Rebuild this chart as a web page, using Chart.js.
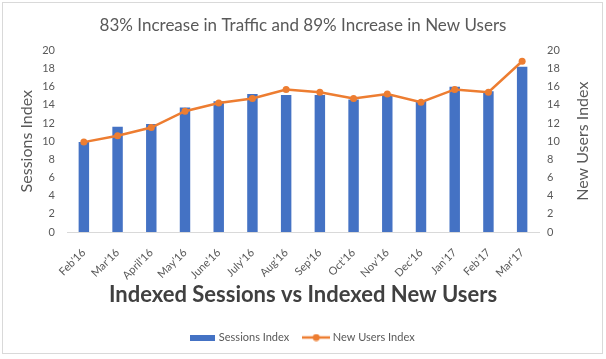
<!DOCTYPE html>
<html>
<head>
<meta charset="utf-8">
<script src="https://cdn.jsdelivr.net/npm/chart.js@4/dist/chart.umd.min.js"></script>
<style>
  html, body { margin: 0; padding: 0; background: #fff; }
  #wrap { width: 606px; height: 359px; }
</style>
</head>
<body>
<div id="wrap"><canvas id="trafficChart" width="606" height="359"></canvas></div>
<script>
// Chart data
const months = ["Feb'16", "Mar'16", "April'16", "May'16", "June'16", "July'16", "Aug'16",
                "Sep'16", "Oct'16", "Nov'16", "Dec'16", "Jan'17", "Feb'17", "Mar'17"];
const sessionsIndex = [9.9, 11.6, 11.9, 13.7, 14.4, 15.2, 15.1, 15.1, 14.6, 15.1, 14.5, 16.0, 15.5, 18.2];
const newUsersIndex = [9.9, 10.6, 11.5, 13.3, 14.2, 14.7, 15.7, 15.4, 14.7, 15.2, 14.3, 15.7, 15.4, 18.8];

const fontFamily = 'Lato, "Open Sans", sans-serif';
const gray = '#595959';

// Small canvases used as legend symbols
function makeBarSymbol() {
    const c = document.createElement('canvas');
    c.width = 25; c.height = 6;
    const g = c.getContext('2d');
    g.fillStyle = '#4472C4';
    g.fillRect(0, 0, 25, 6);
    return c;
}

function makeLineSymbol() {
    const c = document.createElement('canvas');
    c.width = 28; c.height = 8;
    const g = c.getContext('2d');
    g.strokeStyle = '#ED7D31';
    g.lineWidth = 2.5;
    g.beginPath();
    g.moveTo(0, 4); g.lineTo(28, 4);
    g.stroke();
    g.fillStyle = '#ED7D31';
    g.beginPath();
    g.arc(14, 4, 3.5, 0, Math.PI * 2);
    g.fill();
    return c;
}

// White background, outer frame and the right axis title (reads bottom to top)
const framePlugin = {
    id: 'frame',
    beforeDraw(chart) {
        const ctx = chart.ctx;
        ctx.save();
        ctx.fillStyle = '#fff';
        ctx.fillRect(0, 0, chart.width, chart.height);
        ctx.strokeStyle = '#d9d9d9';
        ctx.lineWidth = 1;
        ctx.strokeRect(2.5, 2.5, 600, 351);
        ctx.restore();
    },
    afterDraw(chart) {
        const ctx = chart.ctx;
        const area = chart.chartArea;
        ctx.save();
        ctx.fillStyle = gray;
        ctx.font = '16px ' + fontFamily;
        ctx.textAlign = 'center';
        ctx.textBaseline = 'middle';
        ctx.translate(583, (area.top + area.bottom) / 2);
        ctx.rotate(-Math.PI / 2);
        ctx.fillText('New Users Index', 0, 0);
        ctx.restore();
    }
};

const ctx = document.getElementById('trafficChart').getContext('2d');

const trafficChart = new Chart(ctx, {
    type: 'bar',
    data: {
        labels: months,
        datasets: [
            {
                type: 'line',
                label: 'New Users Index',
                data: newUsersIndex,
                yAxisID: 'y1',
                borderColor: '#ED7D31',
                backgroundColor: '#ED7D31',
                borderWidth: 2.5,
                pointRadius: 3.5,
                pointBackgroundColor: '#ED7D31',
                pointBorderWidth: 0,
                tension: 0,
                order: 1
            },
            {
                label: 'Sessions Index',
                data: sessionsIndex,
                yAxisID: 'y',
                backgroundColor: '#4472C4',
                categoryPercentage: 1,
                barPercentage: 0.31,
                order: 2
            }
        ]
    },
    options: {
        responsive: false,
        animation: false,
        layout: {
            padding: { top: 4, left: 4, right: 4, bottom: 6 }
        },
        plugins: {
            title: {
                display: true,
                text: '83% Increase in Traffic and 89% Increase in New Users',
                color: gray,
                font: { family: fontFamily, size: 17, weight: 'normal' },
                padding: { top: 11, bottom: 15 }
            },
            legend: {
                position: 'bottom',
                reverse: true,
                labels: {
                    usePointStyle: true,
                    pointStyleWidth: 22,
                    color: gray,
                    font: { family: fontFamily, size: 11 },
                    padding: 16,
                    generateLabels(chart) {
                        const items = Chart.defaults.plugins.legend.labels.generateLabels(chart);
                        items.forEach(item => {
                            item.pointStyle = item.datasetIndex === 1 ? makeBarSymbol() : makeLineSymbol();
                        });
                        return items;
                    }
                }
            },
            tooltip: { enabled: false }
        },
        scales: {
            x: {
                grid: { display: false },
                border: { color: '#d9d9d9' },
                ticks: {
                    color: gray,
                    font: { family: fontFamily, size: 11 },
                    minRotation: 45,
                    maxRotation: 45,
                    padding: 6
                },
                title: {
                    display: true,
                    text: 'Indexed Sessions vs Indexed New Users',
                    color: '#404040',
                    font: { family: fontFamily, size: 22, weight: 'bold' },
                    padding: { top: 4, bottom: 8 }
                },
                afterFit(scale) { scale.height = 84; }
            },
            y: {
                position: 'left',
                min: 0,
                max: 20,
                grid: { display: false, drawTicks: false },
                border: { display: false },
                ticks: {
                    stepSize: 2,
                    color: gray,
                    font: { family: fontFamily, size: 11 },
                    padding: 12
                },
                title: {
                    display: true,
                    text: 'Sessions Index',
                    color: gray,
                    font: { family: fontFamily, size: 16 },
                    padding: { top: 13, bottom: 0 }
                },
                afterFit(scale) { scale.width = 63; }
            },
            y1: {
                position: 'right',
                min: 0,
                max: 20,
                grid: { display: false, drawTicks: false },
                border: { display: false },
                ticks: {
                    stepSize: 2,
                    color: gray,
                    font: { family: fontFamily, size: 11 },
                    padding: 8
                },
                afterFit(scale) { scale.width = 63; }
            }
        }
    },
    plugins: [framePlugin]
});
</script>
</body>
</html>
